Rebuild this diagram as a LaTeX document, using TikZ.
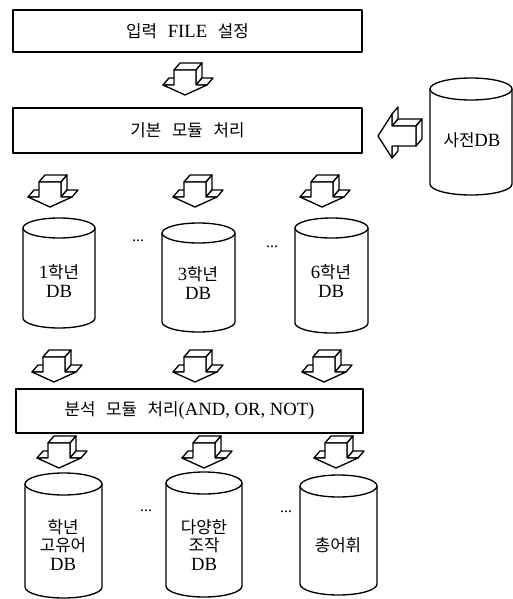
\documentclass[tikz,border=0pt]{standalone}
\usepackage{fontspec}
\setmainfont{Liberation Serif}
\newfontfamily\kr{Noto Sans CJK KR}[Scale=0.9]
\usetikzlibrary{fit}
\tikzset{
  ln/.style={line width=1pt, line join=round},
  ar/.style={ln, draw=black, fill=white},
  boxn/.style={ln, draw, inner sep=0pt},
  lbl/.style={align=center, inner sep=0pt, font=\fontsize{14}{13.8}\selectfont},
  dots/.style={inner sep=0pt, font=\fontsize{12}{12}\selectfont},
}
\newcommand\ws{\hspace{8pt}}
% down block arrow: #1 = x of tip, #2 = y of top back edge
\newcommand\darr[2]{%
  \draw[ar] ({#1-11},{#2+7}) -- ({#1-5},{#2}) -- ({#1+17},{#2}) -- ({#1+11},{#2+7}) -- cycle;
  \draw[ar] ({#1+11},{#2+7}) -- ({#1+17},{#2}) -- ({#1+17},{#2+15}) -- ({#1+11},{#2+22}) -- cycle;
  \draw[ar] ({#1+11},{#2+22}) -- ({#1+17},{#2+15}) -- ({#1+28},{#2+15}) -- ({#1+22},{#2+22}) -- cycle;
  \draw[ar] ({#1-22},{#2+22}) -- ({#1-16},{#2+15}) -- ({#1-5},{#2+15}) -- ({#1-11},{#2+22}) -- cycle;
  \draw[ar] ({#1-11},{#2+7}) -- ({#1+11},{#2+7}) -- ({#1+11},{#2+22}) -- ({#1+22},{#2+22})
    -- ({#1},{#2+32}) -- ({#1-22},{#2+22}) -- ({#1-11},{#2+22}) -- cycle;
}
% left block arrow: #1 = x of tip, #2 = y of tip
\newcommand\larr[2]{%
  \draw[ar] ({#1+14},{#2-10}) -- ({#1+20},{#2-17}) -- ({#1+44},{#2-17}) -- ({#1+38},{#2-10}) -- cycle;
  \draw[ar] ({#1+38},{#2-10}) -- ({#1+44},{#2-17}) -- ({#1+44},{#2+3}) -- ({#1+38},{#2+10}) -- cycle;
  \draw[ar] ({#1+14},{#2-22}) -- ({#1+20},{#2-29}) -- ({#1+20},{#2-17}) -- ({#1+14},{#2-10}) -- cycle;
  \draw[ar] ({#1+14},{#2+10}) -- ({#1+20},{#2+3}) -- ({#1+20},{#2+15}) -- ({#1+14},{#2+22}) -- cycle;
  \draw[ar] (#1,#2) -- ({#1+14},{#2-22}) -- ({#1+14},{#2-10}) -- ({#1+38},{#2-10})
    -- ({#1+38},{#2+10}) -- ({#1+14},{#2+10}) -- ({#1+14},{#2+22}) -- cycle;
}
% cylinder: #1 xc, #2 rx, #3 y of top ellipse centre, #4 y of bottom ellipse centre, #5 ry, #6 name
\newcommand\cyl[6]{%
  \draw[ln] ({#1-#2},#3) -- ({#1-#2},#4) arc (180:0:#2 and #5) -- ({#1+#2},#3);
  \draw[ln] (#1,#3) ellipse (#2 and #5);
  \coordinate (#6) at (#1,{(#3+#4)/2});
}
\begin{document}
\begin{tikzpicture}[x=0.75pt,y=-0.75pt]
\useasboundingbox (0,0) rectangle (513,599);

% boxes
\node[boxn, fit={(13,10)(362,52)}] (inp) {};
\node[lbl] (inpt) at (inp.center) {{\kr 입력}\ws FILE\ws{\kr 설정}};
\node[boxn, fit={(13,108)(362,153)}] (base) {};
\node[lbl] (baset) at (base.center) {{\kr 기본\ws 모듈\ws 처리}};
\node[boxn, fit={(16,389)(363,433)}] (anal) {};
\node[lbl] (analt) at (anal.center) {{\kr 분석\ws 모듈\ws 처리}(AND, OR, NOT)};

% dictionary DB
\cyl{471}{41}{89}{184}{11}{dict}
\node[lbl] (dictt) at (472,140) {{\kr 사전}DB};
\larr{378}{136}

% first arrow
\darr{185}{63}

% grade DBs
\darr{50}{175}
\darr{195}{175}
\darr{322}{175}
\cyl{59}{36}{228}{318}{10}{g1}
\cyl{198.5}{36.5}{233}{322}{10}{g3}
\cyl{331.5}{36.5}{228}{323}{10}{g6}
\node[lbl] (g1t) at (59,281) {1{\kr 학년}\\DB};
\node[lbl] (g3t) at (198,283) {3{\kr 학년}\\DB};
\node[lbl] (g6t) at (331,281) {6{\kr 학년}\\DB};
\node[dots] (d1) at (138,241) {...};
\node[dots] (d2) at (272,247) {...};

% to analysis
\darr{54}{350}
\darr{195}{350}
\darr{324}{350}

% result DBs
\darr{59}{436}
\darr{204}{436}
\darr{336}{436}
\cyl{63.5}{38.5}{484}{587}{11}{r1}
\cyl{204}{38}{483}{586}{11}{r2}
\cyl{338.5}{38.5}{486}{584}{11}{r3}
\node[lbl] (r1t) at (63,545) {{\kr 학년}\\{\kr 고유어}\\DB};
\node[lbl] (r2t) at (204,545) {{\kr 다양한}\\{\kr 조작}\\DB};
\node[lbl] (r3t) at (338,545) {{\kr 총어휘}};
\node[dots] (d3) at (146,511) {...};
\node[dots] (d4) at (286,512) {...};
\end{tikzpicture}
\end{document}
